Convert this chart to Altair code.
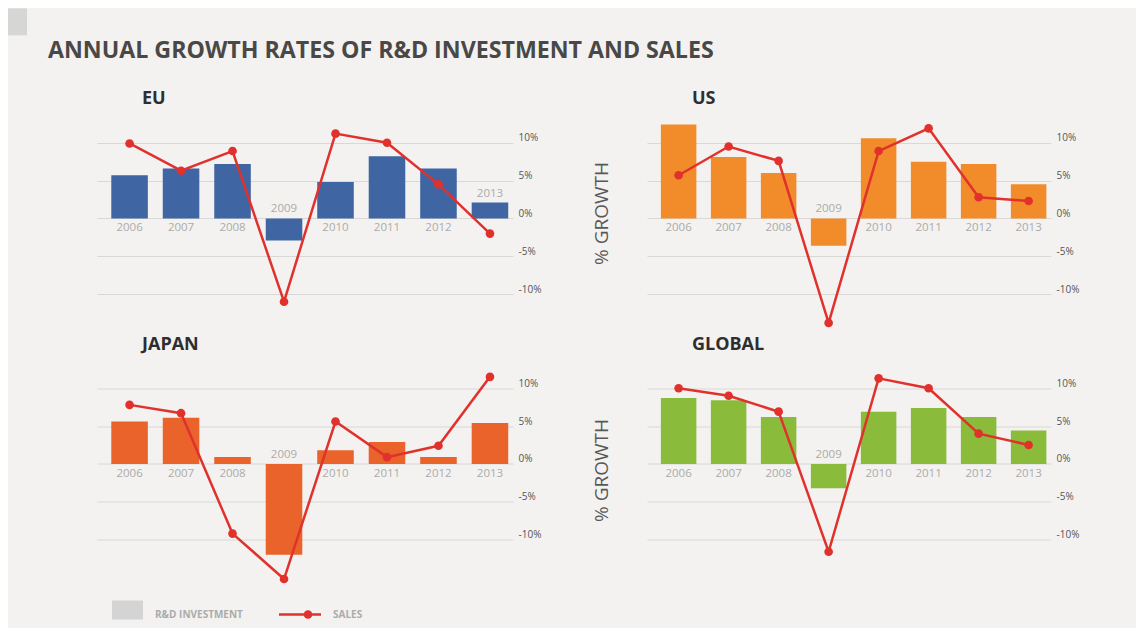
import altair as alt
import pandas as pd

years = ["2006", "2007", "2008", "2009", "2010", "2011", "2012", "2013"]

eu_rd = [5.7, 6.6, 7.2, -2.9, 4.8, 8.2, 6.6, 2.1]
eu_sales = [9.9, 6.3, 8.9, -11.0, 11.2, 10.0, 4.5, -2.0]
us_rd = [12.4, 8.1, 6.0, -3.6, 10.6, 7.5, 7.2, 4.5]
us_sales = [5.7, 9.5, 7.6, -13.8, 8.9, 11.9, 2.8, 2.3]
jp_rd = [5.6, 6.1, 0.9, -12.0, 1.8, 2.9, 0.9, 5.4]
jp_sales = [7.8, 6.7, -9.2, -15.2, 5.6, 0.9, 2.4, 11.5]
gl_rd = [8.7, 8.4, 6.2, -3.2, 6.9, 7.4, 6.2, 4.4]
gl_sales = [10.0, 9.0, 6.9, -11.6, 11.3, 10.0, 4.0, 2.5]

region_names = ["EU", "US", "JAPAN", "GLOBAL"]
bar_colors = ["#3f65a3", "#f28c2a", "#ea632b", "#8bbb3a"]
labels_above = [["2009", "2013"], ["2009"], ["2009"], ["2009"]]
tick_values = [-10, -5, 0, 5, 10]

main_title = "ANNUAL GROWTH RATES OF R&D INVESTMENT AND SALES"
side_title = "% GROWTH"
legend_labels = ["R&D INVESTMENT", "SALES"]

RED = "#e1312d"
BG = "#f3f2f0"
FONT = "Open Sans"
H = 212


def note(text, x, y, **kw):
    return alt.Chart(pd.DataFrame({"t": [text]})).mark_text(**kw).encode(
        x=alt.value(x), y=alt.value(y), text="t:N")


def box(x, x2, y, y2, color):
    return alt.Chart(pd.DataFrame({"a": [0]})).mark_rect(color=color).encode(
        x=alt.value(x), x2=alt.value(x2), y=alt.value(y), y2=alt.value(y2))


def panel(name, rd, sales, color, above, width, extras):
    df = pd.DataFrame({"year": years, "rd": rd, "sales": sales})
    df["above"] = [y in above for y in years]
    df["lab_y"] = [max(r, 0) if a else 0 for r, a in zip(rd, df["above"])]
    xs = alt.X("year:N", sort=years,
               scale=alt.Scale(paddingInner=0.29, paddingOuter=0.185, align=0.75),
               axis=None)
    ysc = alt.Scale(domain=[-15, 13], nice=False, zero=False)
    yax = alt.Axis(orient="right", values=tick_values, labelExpr="datum.value + '%'",
                   grid=True, gridColor="#d8d8d6", gridWidth=1, domain=False,
                   ticks=False, labelPadding=5, labelFontSize=10, labelColor="#555555",
                   labelFont=FONT, labelBaseline="alphabetic", labelOffset=-2,
                   title=None)
    base = alt.Chart(df)
    bars = base.mark_bar(color=color).encode(
        x=xs, y=alt.Y("rd:Q", scale=ysc, axis=yax), y2=alt.datum(0))
    line = base.mark_line(color=RED, strokeWidth=2.5).encode(
        x=xs, y=alt.Y("sales:Q", scale=ysc, axis=yax))
    pts = base.mark_circle(color=RED, size=75, opacity=1).encode(
        x=xs, y=alt.Y("sales:Q", scale=ysc, axis=yax))
    lab_below = base.transform_filter("!datum.above").mark_text(
        font=FONT, fontSize=11.5, color="#ababab", baseline="middle", dy=10).encode(
        x=xs, y=alt.Y("lab_y:Q", scale=ysc, axis=yax), text="year:N")
    lab_above = base.transform_filter("datum.above").mark_text(
        font=FONT, fontSize=11.5, color="#ababab", baseline="middle", dy=-9).encode(
        x=xs, y=alt.Y("lab_y:Q", scale=ysc, axis=yax), text="year:N")
    title = note(name, 45, -21, font=FONT, fontSize=18, fontWeight="bold",
                 color="#2e2e2e", align="left", baseline="middle")
    return alt.layer(bars, line, pts, lab_below, lab_above, title, *extras).properties(
        width=width, height=H)


eu_extras = [
    box(-89, -70, -111.6, -84.6, "#d6d6d4"),
    note(main_title, -49, -68.6, font=FONT, fontSize=23.2, fontWeight="bold",
         color="#4a4846", align="left", baseline="middle"),
]
us_extras = [
    note(side_title, -45, 93.4, font=FONT, fontSize=19, color="#585858",
         angle=270, align="center", baseline="middle"),
]
jp_extras = [
    box(15, 46, 235, 254, "#d4d4d4"),
    note(legend_labels[0], 58, 249, font=FONT, fontSize=10, fontWeight="bold",
         color="#ababab", align="left", baseline="middle"),
    alt.Chart(pd.DataFrame({"a": [0]})).mark_rule(color=RED, strokeWidth=2.5).encode(
        x=alt.value(182), x2=alt.value(224), y=alt.value(249)),
    alt.Chart(pd.DataFrame({"a": [0]})).mark_circle(color=RED, size=75, opacity=1).encode(
        x=alt.value(211), y=alt.value(249)),
    note(legend_labels[1], 236, 249, font=FONT, fontSize=10, fontWeight="bold",
         color="#ababab", align="left", baseline="middle"),
]
gl_extras = [
    note(side_title, -45, 104.9, font=FONT, fontSize=19, color="#585858",
         angle=270, align="center", baseline="middle"),
    box(485, 489, 258, 262, BG),
]

eu = panel(region_names[0], eu_rd, eu_sales, bar_colors[0], labels_above[0], 416, eu_extras)
us = panel(region_names[1], us_rd, us_sales, bar_colors[1], labels_above[1], 404, us_extras)
jp = panel(region_names[2], jp_rd, jp_sales, bar_colors[2], labels_above[2], 416, jp_extras)
gl = panel(region_names[3], gl_rd, gl_sales, bar_colors[3], labels_above[3], 404, gl_extras)

chart = alt.concat(eu, us, jp, gl, columns=2).properties(
    spacing={"row": 33.5, "column": 134}, bounds="flush", padding=0,
    background=BG,
).configure_view(stroke=None)

chart.save("out.html", embed_options={"renderer": "svg", "actions": False})
